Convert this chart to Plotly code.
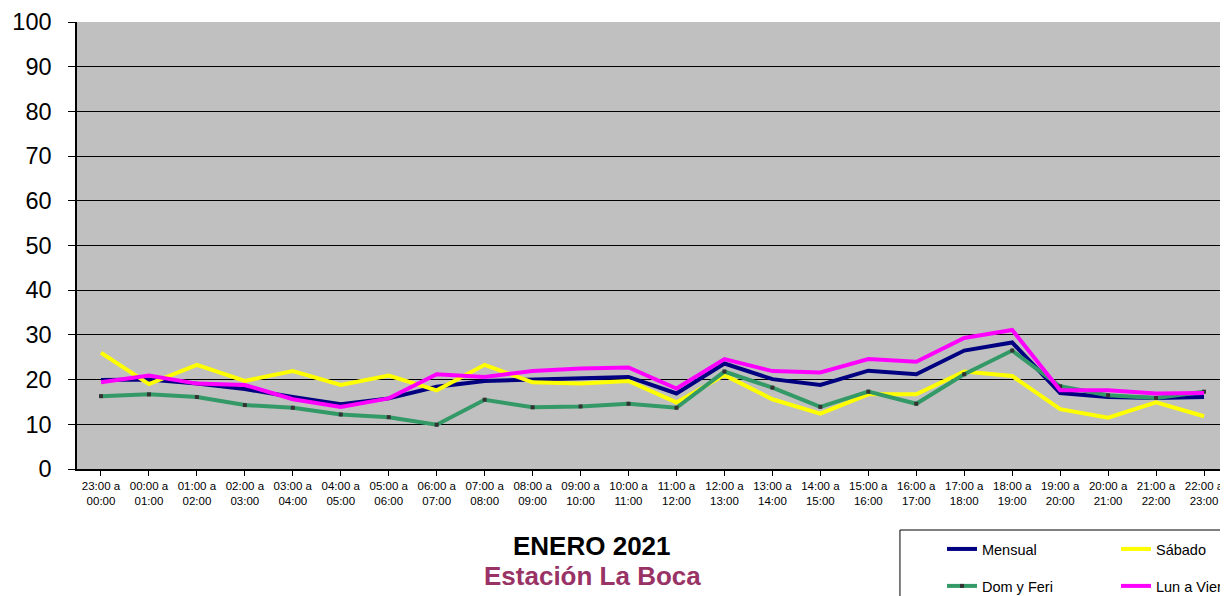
import plotly.graph_objects as go

horas = ["23:00 a<br>00:00", "00:00 a<br>01:00", "01:00 a<br>02:00", "02:00 a<br>03:00",
         "03:00 a<br>04:00", "04:00 a<br>05:00", "05:00 a<br>06:00", "06:00 a<br>07:00",
         "07:00 a<br>08:00", "08:00 a<br>09:00", "09:00 a<br>10:00", "10:00 a<br>11:00",
         "11:00 a<br>12:00", "12:00 a<br>13:00", "13:00 a<br>14:00", "14:00 a<br>15:00",
         "15:00 a<br>16:00", "16:00 a<br>17:00", "17:00 a<br>18:00", "18:00 a<br>19:00",
         "19:00 a<br>20:00", "20:00 a<br>21:00", "21:00 a<br>22:00", "22:00 a<br>23:00"]

mensual = [19.9, 20.0, 19.1, 17.9, 16.1, 14.5, 15.8, 18.4, 19.7, 20.0, 20.3, 20.6,
           16.9, 23.6, 20.1, 18.8, 22.0, 21.2, 26.5, 28.3, 17.0, 16.1, 15.9, 16.1]
sabado = [26.0, 19.0, 23.3, 19.7, 21.9, 18.8, 20.9, 17.6, 23.3, 19.4, 19.1, 19.7,
          14.9, 21.0, 15.6, 12.4, 16.7, 16.7, 21.8, 20.8, 13.4, 11.5, 14.9, 11.8]
dom_feri = [16.3, 16.7, 16.1, 14.3, 13.7, 12.2, 11.6, 9.9, 15.5, 13.8, 14.0, 14.6,
            13.7, 21.8, 18.2, 13.9, 17.3, 14.6, 21.2, 26.5, 18.5, 16.5, 15.9, 17.3]
lun_vier = [19.4, 20.9, 19.1, 18.8, 15.6, 13.9, 15.8, 21.2, 20.6, 21.9, 22.5, 22.7,
            18.0, 24.6, 21.9, 21.6, 24.6, 24.0, 29.3, 31.1, 17.6, 17.6, 16.9, 17.0]

x = list(range(len(horas)))

fig = go.Figure()
fig.add_trace(go.Scatter(x=x, y=mensual, name="Mensual", mode="lines",
                         line=dict(color="#000080", width=4), legend="legend"))
fig.add_trace(go.Scatter(x=x, y=sabado, name="Sábado", mode="lines",
                         line=dict(color="#FFFF00", width=4), legend="legend"))
fig.add_trace(go.Scatter(x=x, y=dom_feri, name="Dom y Feri", mode="lines+markers",
                         line=dict(color="#339966", width=4),
                         marker=dict(symbol="square", size=4, color="#333333"),
                         legend="legend2"))
fig.add_trace(go.Scatter(x=x, y=lun_vier, name="Lun a Vier", mode="lines",
                         line=dict(color="#FF00FF", width=4), legend="legend2"))

fig.update_xaxes(tickmode="array", tickvals=x, ticktext=horas, range=[-0.5, 23.5],
                 tickfont=dict(size=11.5, color="black"), showgrid=False, zeroline=False,
                 showline=True, linecolor="black", linewidth=1.5,
                 ticks="outside", ticklen=5, tickcolor="black", tickson="boundaries")
fig.update_yaxes(range=[0, 100], dtick=10, tickfont=dict(size=23.5, color="black"),
                 showgrid=True, gridcolor="black", gridwidth=1,
                 showline=True, linecolor="black", linewidth=1.5,
                 ticks="outside", ticklen=7, tickcolor="black", zeroline=False,
                 ticklabelstandoff=12)

leg = dict(orientation="h", font=dict(size=14.5, color="black"), bgcolor="rgba(0,0,0,0)",
           entrywidth=129, entrywidthmode="pixels", xanchor="left", yanchor="middle",
           x=0.7515, tracegroupgap=0)

# the page adds an 8px body margin: figure shifted by 8px, a bit wider than the window
# so the legend on the right edge is not clipped
fig.update_layout(
    width=1236, height=588,
    margin=dict(l=69, r=16, t=14, b=127, autoexpand=False),
    plot_bgcolor="#C0C0C0", paper_bgcolor="white",
    font=dict(family="Liberation Sans, Arial, sans-serif"),
    legend=dict(leg, y=-0.179),
    legend2=dict(leg, y=-0.2617),
    shapes=[dict(type="rect", xref="paper", yref="paper", x0=0.715, x1=1.05,
                 y0=-0.35, y1=-0.1365, line=dict(color="black", width=1),
                 fillcolor="white", layer="below")],
    annotations=[
        dict(text="<b>ENERO 2021</b>", xref="paper", yref="paper", x=0.4475, y=-0.1723,
             yanchor="middle", showarrow=False, font=dict(size=26, color="black")),
        dict(text="<b>Estación La Boca</b>", xref="paper", yref="paper", x=0.4475, y=-0.2394,
             yanchor="middle", showarrow=False, font=dict(size=26, color="#993366")),
    ],
)

fig.write_html("out.html")
